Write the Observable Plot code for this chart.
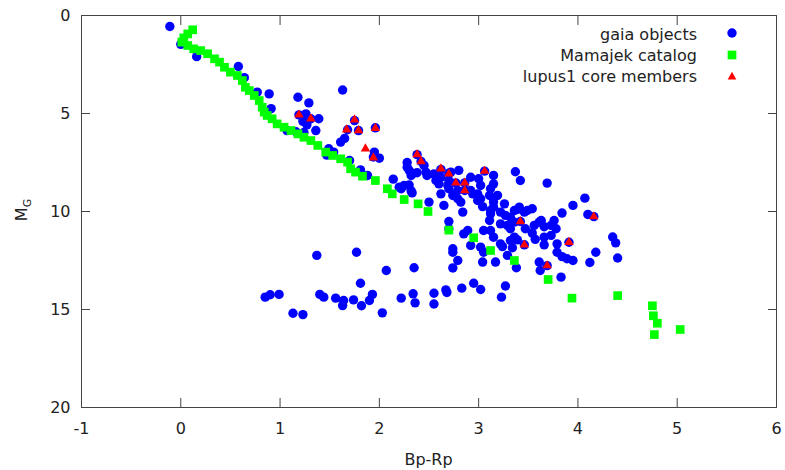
<!DOCTYPE html>
<html><head><meta charset="utf-8">
<script src="https://cdn.jsdelivr.net/npm/d3@7"></script>
<script src="https://cdn.jsdelivr.net/npm/@observablehq/plot@0.6"></script>
<style>
body{margin:0;background:#fff;}
#chart{position:relative;width:785px;height:470px;font-family:"DejaVu Sans",sans-serif;color:#222;}
.lg{position:absolute;right:88px;height:20px;line-height:20px;font-size:16px;white-space:nowrap;text-align:right;}
.sym{position:absolute;}
.axt{position:absolute;height:20px;line-height:20px;font-size:16px;white-space:nowrap;text-align:center;}
.axt sub{font-size:11px;vertical-align:-4px;line-height:0;}
</style></head><body><div id="chart"></div>
<script>
const xTicks = [-1, 0, 1, 2, 3, 4, 5, 6];
const yTicks = [0, 5, 10, 15, 20];
const seriesNames = ["gaia objects", "Mamajek catalog", "lupus1 core members"];
const seriesColors = ["#0000ff", "#00ff00", "#ff0000"];
const xLabel = "Bp-Rp";
const yLabel = "M";
const yLabelSub = "G";

// [Bp-Rp, M_G]
const gaiaObjects = [
[-0.11,0.56],[0.00,1.47],[0.16,2.10],[0.58,2.60],[0.64,3.17],[0.77,3.91],[0.89,4.00],[0.91,4.75],
[1.18,4.17],[1.29,4.46],[1.63,3.80],[1.19,5.07],[1.26,5.02],[1.31,5.27],[1.39,5.27],[1.23,5.40],
[1.27,5.58],[1.36,5.87],[1.07,5.87],[1.16,5.93],[1.24,5.97],[1.61,6.46],[1.65,6.27],[1.49,6.80],
[1.54,6.97],[1.47,7.12],[1.75,5.36],[1.68,5.83],[1.79,5.87],[1.96,5.73],[1.95,6.97],[2.00,7.28],
[1.94,7.22],[1.70,7.40],[1.81,7.88],[1.88,8.16],[2.14,8.35],[2.20,8.76],[2.25,8.67],[2.32,8.95],
[2.28,7.50],[2.28,7.74],[2.38,7.10],[2.42,7.45],[2.30,7.90],[2.38,8.02],[2.47,8.00],[2.33,8.08],
[2.48,8.16],[2.55,8.08],[2.57,8.42],[2.62,7.85],[2.70,8.05],[2.72,7.99],[2.80,7.90],[2.77,8.54],
[2.86,8.54],[2.86,8.93],[3.06,7.94],[2.45,7.65],[2.32,8.16],[2.70,8.42],[2.79,8.93],[3.02,8.67],
[3.12,8.84],[2.99,9.44],[3.26,9.61],[3.41,9.78],[3.32,10.29],[3.12,10.12],[3.15,9.52],
[2.30,8.65],[2.22,8.84],[2.33,9.05],[2.50,9.52],[2.62,8.25],[2.60,8.59],[2.69,8.67],[2.70,8.84],
[2.62,9.10],[2.74,9.18],[2.79,9.35],[2.65,9.69],[2.82,9.52],[2.92,8.25],[2.92,8.93],[2.94,9.10],
[2.84,10.03],[3.00,8.33],[3.15,8.16],[3.15,8.59],[2.99,9.10],[3.02,9.35],[3.04,9.75],[3.11,9.18],
[3.19,9.18],[3.15,9.78],[3.12,9.95],[3.22,10.03],[3.11,10.46],[3.27,10.20],[3.22,10.63],[3.29,10.71],
[3.36,9.95],[3.39,9.90],[3.36,10.54],[3.46,10.03],[3.37,7.97],[3.42,8.42],[3.69,8.55],
[2.70,10.51],[2.70,10.88],[2.89,10.97],[2.85,11.14],[3.05,10.97],[3.12,10.97],[3.15,11.31],[3.32,10.88],
[3.36,11.31],[3.39,11.45],[3.47,10.88],[3.54,11.10],[2.92,11.73],[3.22,11.65],[3.32,11.48],[2.74,11.90],
[3.02,11.82],[3.24,11.79],[3.34,11.85],[2.74,12.08],[2.79,12.50],[2.74,12.88],[3.05,12.08],[3.04,12.58],
[3.17,12.58],[3.29,12.24],[3.38,12.87],[3.54,9.86],[3.49,9.95],[3.63,10.46],[3.56,10.71],[3.66,10.78],
[3.73,10.71],[3.76,10.46],[3.84,10.08],[3.95,9.69],[4.07,9.32],[4.10,10.15],[3.61,10.54],[3.78,10.88],
[3.66,11.31],[3.73,11.22],[3.57,11.42],[3.66,11.70],[3.79,11.65],[3.79,12.08],[3.84,12.30],[3.89,12.41],
[3.95,12.50],[3.61,12.58],[3.62,13.01],[3.83,13.35],[4.12,12.60],[4.18,12.08],[4.35,11.30],[4.38,11.60],
[4.40,12.37],[3.42,10.51],[3.46,11.70],[4.16,10.26],[3.91,11.57],[3.69,12.76],
[1.37,12.24],[1.77,12.08],[2.07,13.01],[2.35,12.87],[1.81,13.66],[0.85,14.37],[0.90,14.25],[0.99,14.23],
[1.13,15.19],[1.23,15.26],[1.40,14.23],[1.44,14.37],[1.56,14.42],[1.64,14.54],[1.63,14.80],[1.74,14.51],
[1.82,14.81],[1.90,14.54],[1.93,14.23],[2.03,15.17],[2.22,14.42],[2.34,14.20],[2.36,14.66],[2.55,14.17],
[2.55,14.72],[2.67,14.00],[2.68,14.13],[2.83,13.91],[2.95,13.66],[3.02,13.98],[3.23,14.37],[3.27,13.80]
];

const mamajekCatalog = [
[0.12,0.73],[0.07,0.94],[0.03,1.14],[0.01,1.36],[0.07,1.53],[0.13,1.70],[0.20,1.79],[0.27,1.95],
[0.34,2.21],[0.39,2.38],[0.44,2.64],[0.50,2.89],[0.57,3.06],[0.62,3.32],[0.65,3.66],[0.69,3.83],
[0.74,4.08],[0.79,4.34],[0.82,4.68],[0.84,4.93],[0.87,5.10],[0.92,5.27],[0.97,5.53],[1.04,5.70],
[1.11,5.87],[1.18,6.04],[1.24,6.21],[1.31,6.38],[1.38,6.63],[1.46,6.97],[1.53,7.14],[1.61,7.31],
[1.68,7.48],[1.71,7.82],[1.76,7.99],[1.83,8.20],[1.96,8.42],[2.08,8.84],[2.13,9.10],[2.25,9.39],
[2.39,9.61],[2.49,10.00],[2.70,10.95],[2.95,11.34],[3.12,11.99],[3.36,12.50],[3.70,13.47],[3.94,14.42],
[4.40,14.29],[4.75,14.81],[4.76,15.32],[4.80,15.70],[4.77,16.28],[5.03,16.02]
];

const lupus1Core = [
[1.19,5.07],[1.31,5.27],[1.75,5.32],[1.67,5.83],[1.79,5.87],[1.96,5.75],[1.86,6.80],[1.94,7.26],
[2.38,7.09],[2.42,7.45],[2.62,7.82],[2.70,8.08],[3.06,7.94],[2.77,8.54],[2.86,8.54],[2.86,8.93],
[3.42,10.51],[3.46,11.70],[4.16,10.26],[3.91,11.57],[3.69,12.76]
];

const tickOpts = {tickSize: 9, stroke: "#444", fill: "none", label: null};
const plainFormat = d => String(d);
const plot = Plot.plot({
  width: 785, height: 470,
  marginLeft: 81, marginRight: 9, marginTop: 15, marginBottom: 63,
  style: {fontFamily: "DejaVu Sans", fontSize: "16px", color: "#222", background: "#fff"},
  x: {domain: [-1, 6]},
  y: {domain: [0, 20], reverse: true},
  marks: [
    Plot.dot(gaiaObjects, {x: d => d[0], y: d => d[1], r: 4.7, fill: seriesColors[0]}),
    Plot.dot(mamajekCatalog, {x: d => d[0], y: d => d[1], symbol: "square", r: 4.9, fill: seriesColors[1]}),
    Plot.dot(lupus1Core, {x: d => d[0], y: d => d[1], symbol: "triangle", r: 3.5, fill: seriesColors[2]}),
    Plot.frame({stroke: "#444"}),
    Plot.axisX(xTicks, {anchor: "bottom", ...tickOpts, dy: -9}),
    Plot.axisX(xTicks, {anchor: "top", ...tickOpts, dy: 9}),
    Plot.axisY(yTicks, {anchor: "left", ...tickOpts, dx: 9}),
    Plot.axisY(yTicks, {anchor: "right", ...tickOpts, dx: -9}),
    Plot.axisX(xTicks, {anchor: "bottom", tickSize: 0, tickPadding: 15.5, label: null, fill: "#222", tickFormat: plainFormat}),
    Plot.axisY(yTicks, {anchor: "left", tickSize: 0, tickPadding: 11, label: null, fill: "#222", tickFormat: plainFormat})
  ]
});
const chart = document.getElementById("chart");
chart.appendChild(plot);

// axis titles
const xl = document.createElement("div");
xl.className = "axt";
xl.style.left = "378.5px"; xl.style.width = "100px"; xl.style.top = "449.5px";
xl.textContent = xLabel;
chart.appendChild(xl);
const yl = document.createElement("div");
yl.className = "axt";
yl.style.left = "2px"; yl.style.width = "40px"; yl.style.top = "200px";
yl.style.transform = "rotate(-90deg)";
yl.innerHTML = yLabel + "<sub>" + yLabelSub + "</sub>";
chart.appendChild(yl);

// legend
const legendTops = [24.5, 46, 67];
const symbols = [
  `<svg width="12" height="12"><circle cx="6" cy="6" r="4.7" fill="${seriesColors[0]}"/></svg>`,
  `<svg width="12" height="12"><rect x="1.65" y="1.65" width="8.7" height="8.7" fill="${seriesColors[1]}"/></svg>`,
  `<svg width="12" height="12"><path d="M6,1.8L10.35,9.4L1.65,9.4Z" fill="${seriesColors[2]}"/></svg>`
];
const symCentersY = [33.3, 55, 76];
seriesNames.forEach((name, i) => {
  const t = document.createElement("div");
  t.className = "lg";
  t.style.top = legendTops[i] + "px";
  t.textContent = name;
  chart.appendChild(t);
  const s = document.createElement("div");
  s.className = "sym";
  s.style.left = (731.7 - 6) + "px";
  s.style.top = (symCentersY[i] - 6) + "px";
  s.style.width = "12px"; s.style.height = "12px"; s.style.lineHeight = "0";
  s.innerHTML = symbols[i];
  chart.appendChild(s);
});
</script></body></html>
